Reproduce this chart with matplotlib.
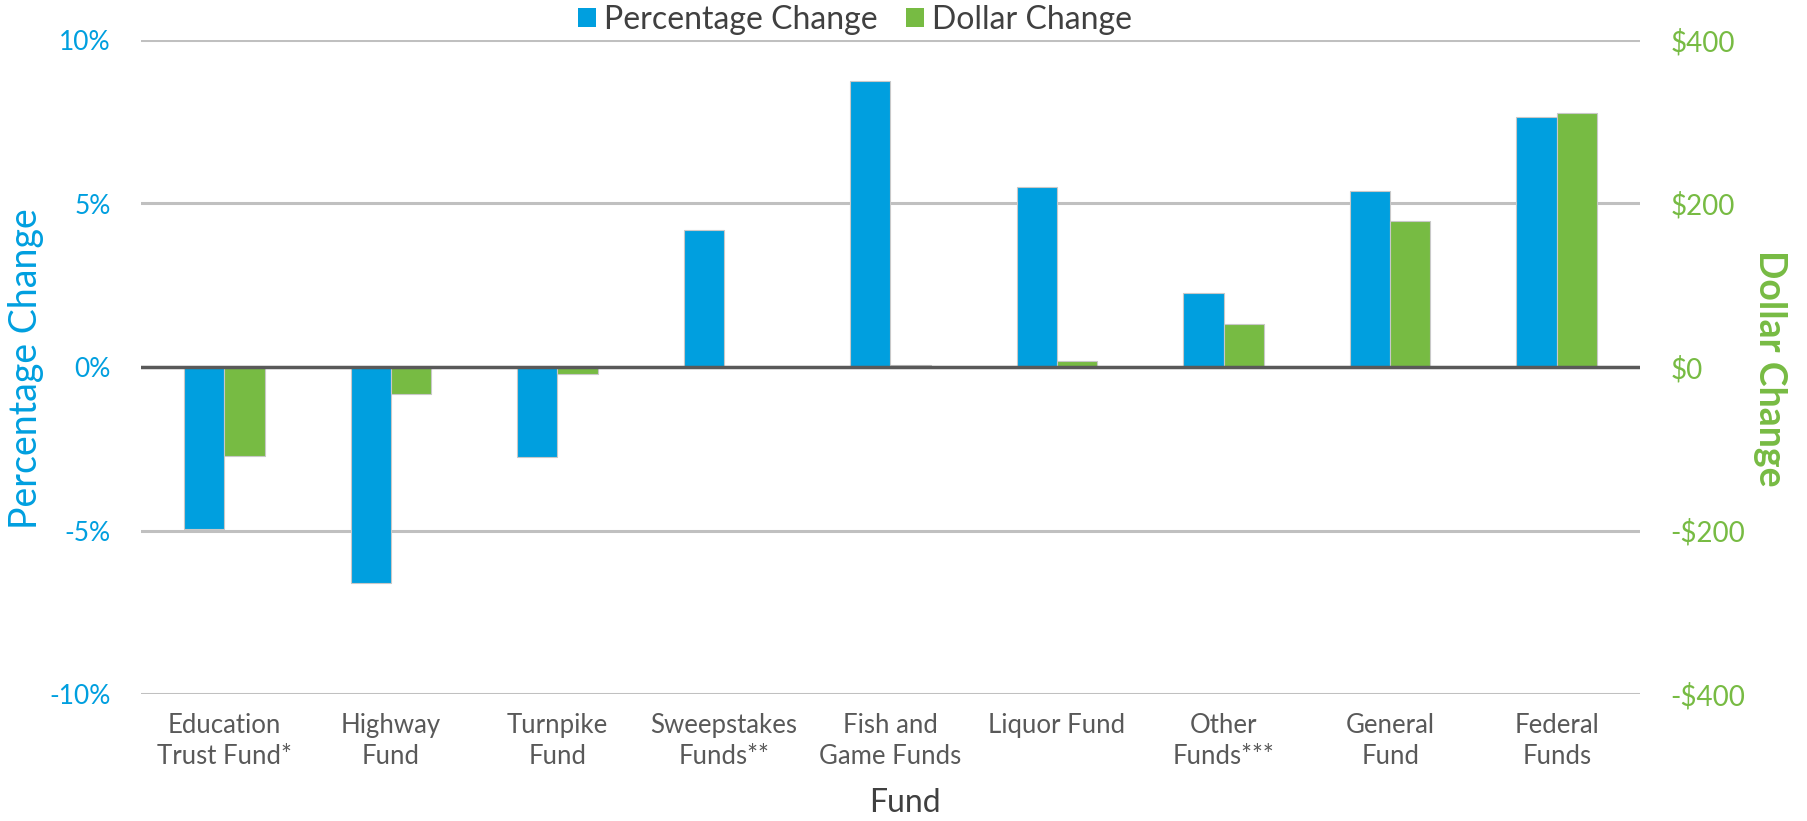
import matplotlib
matplotlib.use("Agg")
import matplotlib.pyplot as plt
import numpy as np
from matplotlib.patches import Patch

categories = ["Education\nTrust Fund*", "Highway\nFund", "Turnpike\nFund", "Sweepstakes\nFunds**",
              "Fish and\nGame Funds", "Liquor Fund", "Other\nFunds***", "General\nFund", "Federal\nFunds"]
pct_change = [-4.94, -6.61, -2.75, 4.2, 8.75, 5.5, 2.26, 5.38, 7.65]
dollar_change = [-109, -33, -8, 0, 3, 7, 52, 179, 311]
pct_ticks = [-10, -5, 0, 5, 10]
pct_labels = ["-10%", "-5%", "0%", "5%", "10%"]
dollar_ticks = [-400, -200, 0, 200, 400]
dollar_labels = ["-$400", "-$200", "$0", "$200", "$400"]

BLUE = "#009FDF"
GREEN = "#77BB43"
GRAY = "#595959"
FONT = "Lato"

plt.rcParams['font.family'] = [FONT, 'DejaVu Sans']

W, H = 1808, 821
fig = plt.figure(figsize=(W/100, H/100), dpi=100)
ax = fig.add_axes([141/W, 1 - 694/H, (1640-141)/W, (694-40)/H])
ax2 = ax.twinx()

x = np.arange(len(categories))
w = 0.242
ax.bar(x - w/2, pct_change, width=w, color=BLUE, edgecolor="#C8C8C8", linewidth=0.8, zorder=3)
ax2.bar(x + w/2, dollar_change, width=w, color=GREEN, edgecolor="#C8C8C8", linewidth=0.8, zorder=3)

ax.set_xlim(-0.5, len(categories) - 0.5)
ax.set_ylim(-10, 10)
ax2.set_ylim(-400, 400)

for t in pct_ticks:
    if t != 0:
        ax.axhline(t, color="#C0C0C0", linewidth=2.2, zorder=1)
ax2.axhline(0, color=GRAY, linewidth=2.5, zorder=5)

ax.set_yticks(pct_ticks)
ax.set_yticklabels(pct_labels, color=BLUE, fontsize=19)
ax2.set_yticks(dollar_ticks)
ax2.set_yticklabels(dollar_labels, color=GREEN, fontsize=20)
ax.set_xticks(x)
ax.set_xticklabels(categories, color=GRAY, fontsize=18.5, linespacing=1.3)
ax.tick_params(axis='both', length=0)
ax.tick_params(axis='y', pad=22)
ax.tick_params(axis='x', pad=14)
ax2.tick_params(axis='y', length=0, pad=22)

for a in (ax, ax2):
    for s in a.spines.values():
        s.set_visible(False)

fig.text(26/W, 1 - 369/H, "Percentage Change", color=BLUE, fontsize=27, rotation=90,
         ha="center", va="center")
fig.text(1770/W, 1 - 368/H, "Dollar Change", color=GREEN, fontsize=27, rotation=270,
         ha="center", va="center", fontweight="bold")
fig.text(905/W, 1 - 803/H, "Fund", color="#404040", fontsize=23, ha="center", va="center")

handles = [Patch(facecolor=BLUE, edgecolor="none", label="Percentage Change"),
           Patch(facecolor=GREEN, edgecolor="none", label="Dollar Change")]
fig.legend(handles=handles, loc="center", bbox_to_anchor=(0.473, 1 - 20/H), ncol=2, frameon=False,
           fontsize=23, handlelength=0.55, handleheight=0.55, handletextpad=0.25, columnspacing=0.9,
           labelcolor="#404040")

fig.savefig("out.png", dpi=100, facecolor="white")
